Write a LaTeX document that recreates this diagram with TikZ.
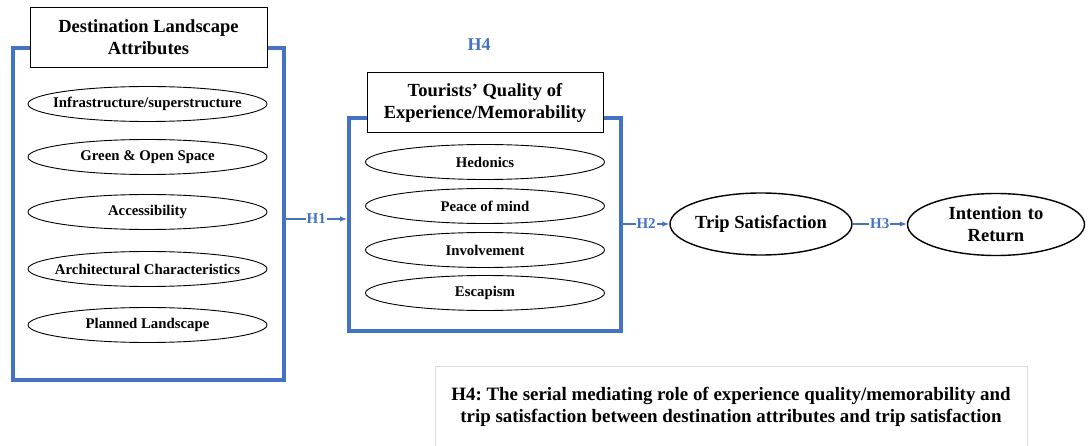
\documentclass[tikz,border=0pt]{standalone}
\usepackage{fontspec}
\setmainfont{Liberation Serif}
\frenchspacing
\usetikzlibrary{shapes.geometric,arrows.meta}
\definecolor{hblue}{HTML}{4472C4}
\definecolor{framegray}{HTML}{D9D9D9}
\newcommand{\zw}[1]{\makebox[0pt]{#1}}
\tikzset{
  groupbox/.style={draw=hblue, line width=4pt, rectangle, fill=none},
  titlebox/.style={draw=black, line width=1pt, fill=white, rectangle, align=center, font=\bfseries\fontsize{18.5}{22}\selectfont, inner sep=0pt},
  smallell/.style={draw=black, line width=0.9pt, ellipse, inner sep=0pt, minimum width=239pt, minimum height=35pt, font=\bfseries\fontsize{14.8}{17}\selectfont},
  bigell/.style={draw=black, line width=1.4pt, ellipse, inner sep=0pt, align=center, font=\bfseries\fontsize{18.5}{22}\selectfont},
  harrow/.style={draw=hblue, line width=1.2pt, -{Latex[length=7pt,width=5.5pt]}},
  hlabel/.style={fill=white, text=hblue, inner sep=1pt, font=\bfseries\fontsize{15}{17}\selectfont},
}
\begin{document}
\begin{tikzpicture}[x=1pt,y=-1pt]
\useasboundingbox (0,0) rectangle (1088,446);
% group boxes
\node[groupbox, minimum width=271pt, minimum height=332pt] (lbox) at (148,214) {};
\node[groupbox, minimum width=272pt, minimum height=213pt] (mbox) at (485,224.5) {};
% title boxes
\node[titlebox, minimum width=237pt, minimum height=60pt] (ltitle) at (148.5,37.5) {Destination Landscape\\Attributes};
\node[titlebox, minimum width=236pt, minimum height=60pt] (mtitle) at (485,103) {Tourists' Quality of\\Experience/Memorability};
% left ellipses
\node[smallell] (e1) at (147.5,104) {\zw{Infrastructure/superstructure}};
\node[smallell] (e2) at (147.5,157) {\zw{Green \& Open Space}};
\node[smallell] (e3) at (147.5,212) {\zw{Accessibility}};
\node[smallell] (e4) at (147.5,269) {\zw{Architectural Characteristics}};
\node[smallell] (e5) at (147.5,325) {\zw{Planned Landscape}};
% middle ellipses
\node[smallell] (m1) at (485,162) {\zw{Hedonics}};
\node[smallell] (m2) at (485,206) {\zw{Peace of mind}};
\node[smallell] (m3) at (485,250) {\zw{Involvement}};
\node[smallell] (m4) at (485,293) {\zw{Escapism}};
% outcome ellipses
\node[bigell, minimum width=182pt, minimum height=62pt] (trip) at (761,224) {\zw{Trip Satisfaction}};
\node[bigell, minimum width=177pt, minimum height=62pt, text width=0pt] (ret) at (996,224.5) {\centering\zw{Intention to}\\\zw{Return}};
% H4 label
\node[text=hblue, font=\bfseries\fontsize{18}{20}\selectfont] (h4) at (479,45) {H4};
% arrows
\draw[harrow] ([yshift=-5pt]lbox.east) -- node[hlabel] {H1} ([yshift=-5pt]lbox.east -| mbox.west);
\draw[harrow] (mbox.east |- trip.west) -- node[hlabel] {H2} (trip.west);
\draw[harrow] (trip.east) -- node[hlabel] {H3} (trip.east -| ret.west);
% bottom note
\node[align=center, font=\bfseries\fontsize{18.9}{21.5}\selectfont] (note) at (731,407) {H4: The serial mediating role of experience quality/memorability and\\trip satisfaction between destination attributes and trip satisfaction};
\coordinate (nbl) at (435,450);
\coordinate (ntl) at (435,367);
\coordinate (ntr) at (1027,367);
\coordinate (nbr) at (1027,450);
\draw[framegray, line width=1pt] (nbl) -- (ntl) -- (ntr) -- (nbr);
\end{tikzpicture}
\end{document}
